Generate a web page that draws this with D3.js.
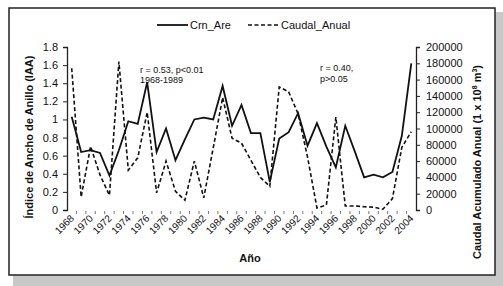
<!DOCTYPE html>
<html>
<head>
<meta charset="utf-8">
<script src="https://cdn.jsdelivr.net/npm/d3@7"></script>
<style>
  body { margin: 0; background: #fff; }
  svg text { font-family: "Liberation Sans", Arial, sans-serif; fill: #111; }
</style>
</head>
<body>
<svg id="chart" width="503" height="286"></svg>
<script>
// años (categorías)
var years = d3.range(1968, 2005);
// indice de ancho de anillo
var crnAre = [1.03, 0.64, 0.66, 0.63, 0.38, 0.66, 0.98, 0.95, 1.41, 0.64,
              0.90, 0.55, 0.78, 1.00, 1.02, 1.00, 1.37, 0.93, 1.16, 0.85,
              0.85, 0.31, 0.79, 0.86, 1.07, 0.71, 0.96, 0.70, 0.47, 0.93,
              0.65, 0.36, 0.39, 0.36, 0.42, 0.82, 1.62];
// caudal acumulado anual
var caudal = [174000, 16000, 78000, 43000, 18000, 182000, 49000, 64000, 120000, 21000,
              60000, 23000, 12000, 60000, 15000, 76000, 138000, 88000, 82000, 61000,
              40000, 29000, 151000, 145000, 118000, 65000, 2500, 6000, 114000, 5000,
              5000, 4000, 3500, 1000, 14000, 77000, 96000];
var leftTicks = [0, 0.2, 0.4, 0.6, 0.8, 1, 1.2, 1.4, 1.6, 1.8];
var rightTicks = [0, 20000, 40000, 60000, 80000, 100000, 120000, 140000, 160000, 180000, 200000];
var yearLabels = years.filter(function(d) { return (d - 1968) % 2 === 0; });

var svg = d3.select("#chart");
var plotLeft = 67, plotRight = 416, plotTop = 47, plotBottom = 210;

// marco con sombra
svg.append("rect").attr("x", 13).attr("y", 12).attr("width", 490).attr("height", 274).attr("fill", "#c8c8c8");
svg.append("rect").attr("x", 9).attr("y", 8).attr("width", 486).attr("height", 267)
  .attr("fill", "#fff").attr("stroke", "#222").attr("stroke-width", 1.5);

var x = d3.scaleBand().domain(years).range([plotLeft, plotRight]);
var yL = d3.scaleLinear().domain([0, 1.8]).range([plotBottom, plotTop]);
var yR = d3.scaleLinear().domain([0, 200000]).range([plotBottom, plotTop]);
var cx = function(d) { return x(d) + x.bandwidth() / 2; };

// eje y izquierdo
var gL = svg.append("g").attr("transform", "translate(" + plotLeft + ",0)")
  .call(d3.axisLeft(yL).tickValues(leftTicks).tickSize(4).tickFormat(d3.format("~g")));
gL.select(".domain").attr("stroke", "#222").attr("stroke-width", 1.3);
gL.selectAll("line").attr("stroke", "#222");
gL.selectAll("text").attr("font-size", "11px").attr("dx", "-2");

// eje y derecho
var gR = svg.append("g").attr("transform", "translate(" + plotRight + ",0)")
  .call(d3.axisRight(yR).tickValues(rightTicks).tickSize(4).tickFormat(d3.format("d")));
gR.select(".domain").attr("stroke", "#222").attr("stroke-width", 1.3);
gR.selectAll("line").attr("stroke", "#222");
gR.selectAll("text").attr("font-size", "11px").attr("dx", "3");

// marcas del eje x (entre categorias)
svg.append("g").selectAll("line")
  .data(years.slice(1))
  .enter().append("line")
  .attr("x1", function(d) { return x(d); })
  .attr("x2", function(d) { return x(d); })
  .attr("y1", plotBottom + 1).attr("y2", plotBottom + 4)
  .attr("stroke", "#777").attr("stroke-width", 1);

svg.append("g").selectAll("text")
  .data(yearLabels)
  .enter().append("text")
  .attr("transform", function(d) { return "translate(" + (cx(d) + 3) + "," + (plotBottom + 9) + ") rotate(-45)"; })
  .attr("text-anchor", "end")
  .attr("font-size", "10px")
  .text(function(d) { return d; });

// lineas
var lineL = d3.line().x(function(d, i) { return cx(years[i]); }).y(function(d) { return yL(d); });
var lineR = d3.line().x(function(d, i) { return cx(years[i]); }).y(function(d) { return yR(d); });

svg.append("path").datum(caudal).attr("d", lineR)
  .attr("fill", "none").attr("stroke", "#111").attr("stroke-width", 1.6)
  .attr("stroke-dasharray", "4,2.5");
svg.append("path").datum(crnAre).attr("d", lineL)
  .attr("fill", "none").attr("stroke", "#111").attr("stroke-width", 1.8);

// titulos de ejes
svg.append("text").attr("x", 250).attr("y", 262).attr("text-anchor", "middle")
  .attr("font-size", "11px").attr("font-weight", "bold").text("Año");
svg.append("text").attr("transform", "translate(33,137) rotate(-90)").attr("text-anchor", "middle")
  .attr("font-size", "11px").attr("font-weight", "bold").text("Índice de Ancho de Anillo (IAA)");
var rt = svg.append("text").attr("transform", "translate(481,162) rotate(-90)").attr("text-anchor", "middle")
  .attr("font-size", "11px").attr("font-weight", "bold");
rt.append("tspan").text("Caudal Acumulado Anual (1 x 10");
rt.append("tspan").attr("font-size", "7px").attr("dy", "-4").text("8");
rt.append("tspan").attr("dy", "4").text(" m");
rt.append("tspan").attr("font-size", "7px").attr("dy", "-4").text("3");
rt.append("tspan").attr("dy", "4").text(")");

// leyenda
svg.append("line").attr("x1", 157).attr("x2", 188).attr("y1", 25).attr("y2", 25)
  .attr("stroke", "#111").attr("stroke-width", 1.8);
svg.append("text").attr("x", 190).attr("y", 29).attr("font-size", "11px").text("Crn_Are");
svg.append("line").attr("x1", 248).attr("x2", 279).attr("y1", 25).attr("y2", 25)
  .attr("stroke", "#111").attr("stroke-width", 1.6).attr("stroke-dasharray", "4,2.5");
svg.append("text").attr("x", 281).attr("y", 29).attr("font-size", "11px").text("Caudal_Anual");

// anotaciones
svg.append("text").attr("x", 140).attr("y", 73).attr("font-size", "9px").text("r = 0.53, p<0.01");
svg.append("text").attr("x", 140).attr("y", 83).attr("font-size", "9px").text("1968-1989");
svg.append("text").attr("x", 320).attr("y", 71).attr("font-size", "9px").text("r = 0.40,");
svg.append("text").attr("x", 320).attr("y", 82).attr("font-size", "9px").text("p>0.05");
</script>
</body>
</html>
